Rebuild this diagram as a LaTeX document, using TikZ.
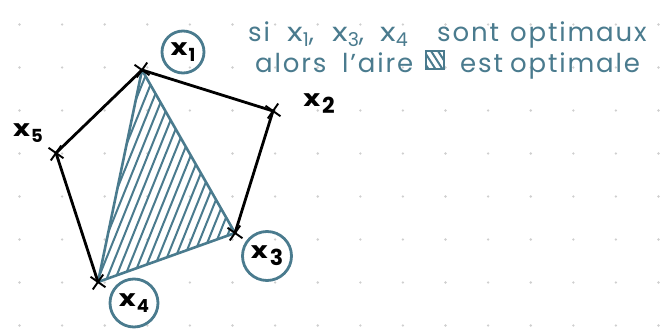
\documentclass[tikz,border=0pt]{standalone}
\usepackage{fontspec}
\setmainfont{Poppins}
\usetikzlibrary{shapes.misc}
\definecolor{inkteal}{HTML}{4A7B8E}
\definecolor{dotgray}{HTML}{CFCFCF}
\newcommand\wx{\scalebox{1.25}[1]{x}}
\newcommand\lab[2]{\wx\kern1pt\raisebox{-0.45ex}{\fontsize{18}{18}\selectfont #2}}
\newcommand\tlab[2]{\wx\kern2pt\raisebox{-0.55ex}{\fontsize{22}{22}\selectfont #2}}
\newcommand\sub[1]{\raisebox{-0.35ex}{\fontsize{19}{19}\selectfont #1}}
\tikzset{
  edge/.style={line width=2.8pt, black, line cap=round},
  tri/.style={line width=2.6pt, inkteal, line join=round},
  hatch/.style={line width=2pt, inkteal},
  mark x/.style={draw=black, cross out, line width=1.9pt, minimum size=11pt, inner sep=0pt, rotate=10},
  ring/.style={circle, draw=inkteal, line width=2.8pt, inner sep=0pt, font=\fontsize{23}{23}\selectfont\bfseries},
  plainlab/.style={inner sep=0pt, font=\fontsize{23}{23}\selectfont\bfseries},
  note/.style={inkteal, inner sep=0pt, anchor=base west, font=\fontsize{26}{26}\selectfont\addfontfeature{LetterSpace=7}},
}
\begin{document}
\begin{tikzpicture}[x=1pt,y=-1pt]
\useasboundingbox (0,0) rectangle (662,331);
\fill[white] (0,0) rectangle (662,331);
\foreach \i in {0,...,15} \foreach \j in {0,...,7}
  \fill[dotgray] (19.5+42.6*\i, 24.5+43*\j) circle (1.3);

\coordinate (x1) at (142,70);
\coordinate (x2) at (273,111);
\coordinate (x3) at (235,233);
\coordinate (x4) at (98,282);
\coordinate (x5) at (56,153);

\begin{scope}
  \clip (x1) -- (x3) -- (x4) -- cycle;
  \foreach \k in {0,...,22}
    \draw[hatch] (38+8.6*\k, 300) -- ++(112,-278);
\end{scope}
\draw[tri] (x1) -- (x3) -- (x4) -- cycle;

\draw[edge] (x1) -- (x2) -- (x3);
\draw[edge] (x4) -- (x5) -- (x1);

\foreach \p in {x1,x2,x3,x4,x5}
  \node[mark x] (m\p) at (\p) {};

\node[ring, minimum size=42pt] (c1) at (183,52) {\lab{x}{1}};
\node[ring, minimum size=49pt] (c3) at (267,256) {\tlab{x}{3}};
\node[ring, minimum size=48pt] (c4) at (134,303) {\lab{x}{4}};
\node[plainlab] (l2) at (319,104) {\tlab{x}{2}};
\node[plainlab] (l5) at (28,133) {\lab{x}{5}};

% line 1
\node[note] (w1) at (248,42) {si};
\node[note] (w2) at (287,42) {\wx\sub{1},};
\node[note] (w3) at (332,42) {\wx\sub{3},};
\node[note] (w4) at (380,42) {\wx\sub{4}};
\node[note] (w5) at (437,42) {sont};
\node[note] (w6) at (510,42) {optimaux};
% line 2
\node[note] (v1) at (255,73) {alors};
\node[note] (v2) at (342,73) {l'aire};
\node[draw=inkteal, line width=2.8pt, minimum width=18pt, minimum height=18pt, inner sep=0pt,
  path picture={
    \foreach \d in {-9,-2,5,12}
      \draw[inkteal, line width=2pt] ([xshift=\d pt]path picture bounding box.north west) -- ++(14,22);
  }] (ic) at (435,60) {};
\node[note] (v3) at (460,73) {est};
\node[note] (v4) at (510,73) {optimale};
\end{tikzpicture}
\end{document}
